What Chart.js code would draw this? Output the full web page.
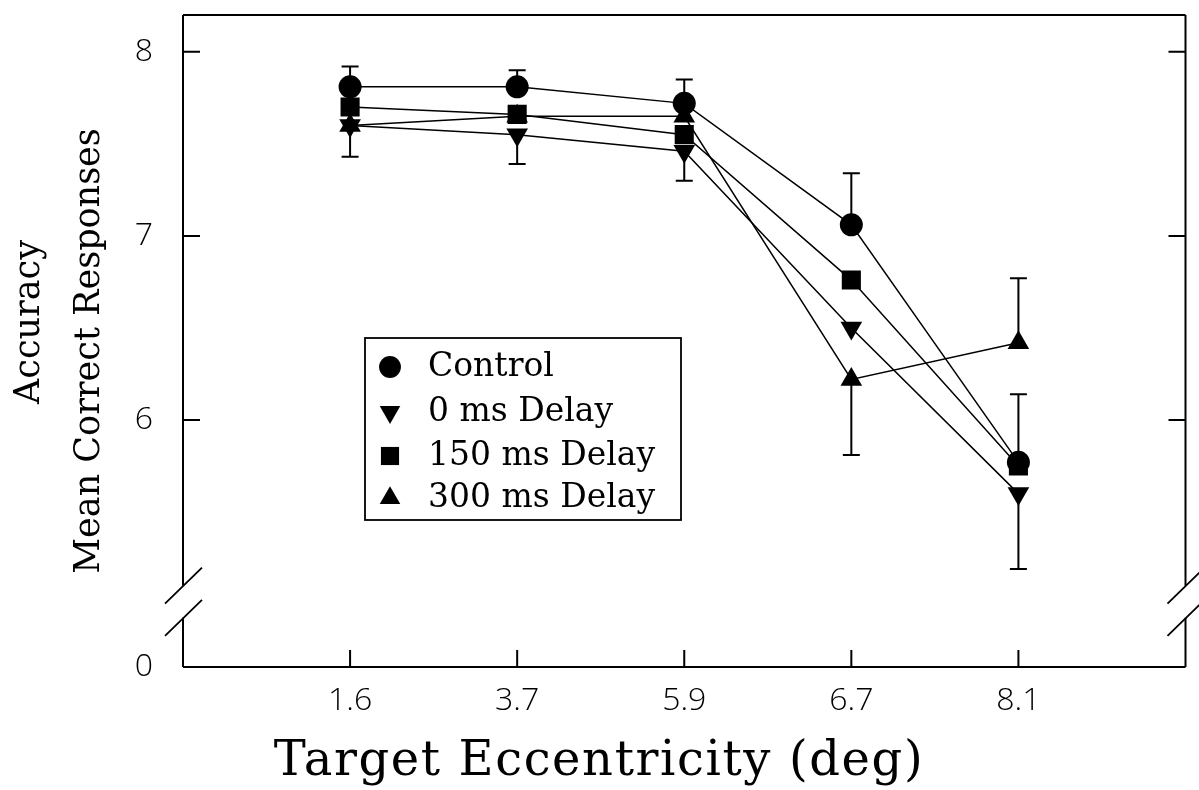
<!DOCTYPE html>
<html>
<head>
<meta charset="utf-8">
<script src="https://cdn.jsdelivr.net/npm/chart.js@4.4.1/dist/chart.umd.min.js"></script>
<style>
    html, body { margin: 0; padding: 0; background: #fff; }
    canvas { display: block; }
</style>
</head>
<body>
<canvas id="accuracyChart" width="1199" height="790"></canvas>
<script>
// du lieu doc tu hinh
const xLabels = ['1.6', '3.7', '5.9', '6.7', '8.1'];
const yTickVals = [6, 7, 8];
const seriesNames = ['Control', '0 ms Delay', '150 ms Delay', '300 ms Delay'];
const xTitle = 'Target Eccentricity (deg)';
const yTitles = ['Accuracy', 'Mean Correct Responses'];

const controlVals = [7.81, 7.81, 7.72, 7.06, 5.77];
const delay0Vals = [7.60, 7.55, 7.46, 6.50, 5.60];
const delay150Vals = [7.70, 7.66, 7.55, 6.76, 5.75];
const delay300Vals = [7.60, 7.65, 7.65, 6.22, 6.42];

// thanh sai so (chi ve nhung cai co trong hinh)
const controlErrUp = [0.11, 0.09, 0.13, 0.28, 0.37];
const delay0ErrDown = [0.17, 0.16, 0.16, null, 0.41];
const delay300ErrUp = [null, null, null, null, 0.35];
const delay300ErrDown = [null, null, null, 0.41, null];

// truc y bi cat: gia tri duoi cung hien thi la "0"
const yMin = 4.658;
const yMax = 8.2;
const breakTop = 5.1;
const breakBottom = 4.925;

const serifFont = '"DejaVu Serif", "Liberation Serif", serif';
const tickFont = '"Open Sans", "Liberation Sans", sans-serif';

const pointStyles = [
    { pointStyle: 'circle', radius: 11.5, rotation: 0 },
    { pointStyle: 'triangle', radius: 12.5, rotation: 180 },
    { pointStyle: 'rect', radius: 13.5, rotation: 0 },
    { pointStyle: 'triangle', radius: 12.5, rotation: 0 }
];

function toPoints(vals) {
    return vals.map((v, i) => ({ x: i + 1, y: v }));
}

function TaoDataset(idx, vals) {
    const st = pointStyles[idx];
    return {
        label: seriesNames[idx],
        data: toPoints(vals),
        borderColor: '#000',
        backgroundColor: '#000',
        borderWidth: 1.5,
        pointStyle: st.pointStyle,
        pointRadius: st.radius,
        pointRotation: st.rotation,
        pointBorderWidth: 0,
        pointBackgroundColor: '#000',
        tension: 0
    };
}

// khung, vach chia, dau cat truc, chu thich, tieu de
const khungPlugin = {
    id: 'khung',
    beforeDatasetsDraw(chart) {
        const ctx = chart.ctx;
        const xs = chart.scales.x;
        const ys = chart.scales.y;
        ctx.save();
        ctx.strokeStyle = '#000';
        ctx.lineWidth = 2;

        // thanh sai so
        const bars = [
            [controlVals, controlErrUp, 1],
            [delay0Vals, delay0ErrDown, -1],
            [delay300Vals, delay300ErrUp, 1],
            [delay300Vals, delay300ErrDown, -1]
        ];
        bars.forEach(([vals, errs, dir]) => {
            errs.forEach((e, i) => {
                if (e === null) return;
                const px = xs.getPixelForValue(i + 1);
                const y0 = ys.getPixelForValue(vals[i]);
                const y1 = ys.getPixelForValue(vals[i] + dir * e);
                ctx.beginPath();
                ctx.moveTo(px, y0);
                ctx.lineTo(px, y1);
                ctx.moveTo(px - 8.5, y1);
                ctx.lineTo(px + 8.5, y1);
                ctx.stroke();
            });
        });
        ctx.restore();
    },
    afterDraw(chart) {
        const ctx = chart.ctx;
        const area = chart.chartArea;
        const xs = chart.scales.x;
        const ys = chart.scales.y;
        const bTop = ys.getPixelForValue(breakTop);
        const bBot = ys.getPixelForValue(breakBottom);

        ctx.save();
        ctx.strokeStyle = '#000';
        ctx.lineWidth = 2;
        ctx.beginPath();
        // tren, duoi
        ctx.moveTo(area.left, area.top);
        ctx.lineTo(area.right, area.top);
        ctx.moveTo(area.left, area.bottom);
        ctx.lineTo(area.right, area.bottom);
        // trai, phai co khoang cat
        [area.left, area.right].forEach(x => {
            ctx.moveTo(x, area.top);
            ctx.lineTo(x, bTop);
            ctx.moveTo(x, bBot);
            ctx.lineTo(x, area.bottom);
        });
        ctx.stroke();

        // dau cat //
        ctx.lineWidth = 1.8;
        ctx.beginPath();
        [area.left, area.right].forEach(x => {
            [bTop, bBot].forEach(y => {
                ctx.moveTo(x - 18, y + 18);
                ctx.lineTo(x + 19, y - 18);
            });
        });
        ctx.stroke();

        // vach chia huong vao trong
        ctx.lineWidth = 2;
        ctx.beginPath();
        yTickVals.forEach(v => {
            const py = ys.getPixelForValue(v);
            ctx.moveTo(area.left, py);
            ctx.lineTo(area.left + 17, py);
            ctx.moveTo(area.right, py);
            ctx.lineTo(area.right - 17, py);
        });
        xLabels.forEach((lb, i) => {
            const px = xs.getPixelForValue(i + 1);
            ctx.moveTo(px, area.bottom);
            ctx.lineTo(px, area.bottom - 17);
        });
        ctx.stroke();

        // chu thich
        const lx = 365, ly = 338, lw = 316, lh = 182;
        ctx.lineWidth = 1.8;
        ctx.strokeRect(lx, ly, lw, lh);
        const rowY = [367, 412, 456, 498];
        ctx.font = '33px ' + serifFont;
        ctx.textBaseline = 'middle';
        ctx.textAlign = 'left';
        ctx.fillStyle = '#000';
        seriesNames.forEach((name, i) => {
            Chart.helpers.drawPoint(ctx, {
                pointStyle: pointStyles[i].pointStyle,
                radius: pointStyles[i].radius * 0.95,
                rotation: pointStyles[i].rotation,
                borderWidth: 0
            }, 390, rowY[i]);
            ctx.fillText(name, 428, rowY[i]);
        });

        // tieu de truc x
        ctx.textAlign = 'center';
        ctx.font = '48px ' + serifFont;
        ctx.letterSpacing = '1.6px';
        ctx.fillText(xTitle, 599, 763);
        ctx.letterSpacing = '0px';

        // tieu de truc y (xoay)
        ctx.font = '35px ' + serifFont;
        const yTitlePos = [[30, 322], [90, 351]];
        yTitles.forEach((t, i) => {
            ctx.save();
            ctx.translate(yTitlePos[i][0], yTitlePos[i][1]);
            ctx.rotate(-Math.PI / 2);
            ctx.fillText(t, 0, 0);
            ctx.restore();
        });
        ctx.restore();
    }
};

function TaoBieuDo() {
    const ctx = document.getElementById('accuracyChart').getContext('2d');

    return new Chart(ctx, {
        type: 'line',
        data: {
            datasets: [
                TaoDataset(0, controlVals),
                TaoDataset(2, delay150Vals),
                TaoDataset(1, delay0Vals),
                TaoDataset(3, delay300Vals)
            ]
        },
        options: {
            responsive: false,
            animation: false,
            devicePixelRatio: 1,
            layout: { padding: { left: 0, top: 15, right: 12, bottom: 0 } },
            plugins: {
                legend: { display: false },
                tooltip: { enabled: false },
                title: { display: false }
            },
            scales: {
                x: {
                    type: 'linear',
                    min: 0,
                    max: 6,
                    afterBuildTicks: s => { s.ticks = xLabels.map((lb, i) => ({ value: i + 1 })); },
                    afterFit: s => {
                        s.height = 123;
                        s.paddingLeft = 0;
                        s.paddingRight = 0;
                    },
                    grid: { display: false, drawTicks: false },
                    border: { display: false },
                    ticks: {
                        color: '#000',
                        padding: 15,
                        maxRotation: 0,
                        font: { family: tickFont, size: 32, weight: '300' },
                        callback: v => xLabels[v - 1]
                    }
                },
                y: {
                    type: 'linear',
                    min: yMin,
                    max: yMax,
                    afterBuildTicks: s => {
                        s.ticks = [{ value: yMin }].concat(yTickVals.map(v => ({ value: v })));
                    },
                    afterFit: s => {
                        s.width = 183;
                        s.paddingTop = 0;
                        s.paddingBottom = 0;
                    },
                    grid: { display: false, drawTicks: false },
                    border: { display: false },
                    ticks: {
                        color: '#000',
                        padding: 30,
                        font: { family: tickFont, size: 32, weight: '300' },
                        callback: v => (v === yMin ? '0' : String(v))
                    }
                }
            }
        },
        plugins: [khungPlugin]
    });
}

TaoBieuDo();
</script>
</body>
</html>
